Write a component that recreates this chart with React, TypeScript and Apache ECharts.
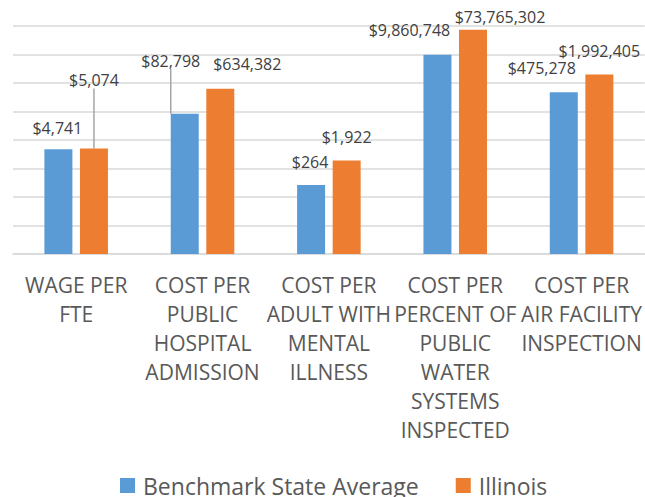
import React, { useEffect, useRef } from "react";
import * as echarts from "echarts";

const categories = [
  "WAGE PER\nFTE",
  "COST PER\nPUBLIC\nHOSPITAL\nADMISSION",
  "COST PER\nADULT WITH\nMENTAL\nILLNESS",
  "COST PER\nPERCENT OF\nPUBLIC\nWATER\nSYSTEMS\nINSPECTED",
  "COST PER\nAIR FACILITY\nINSPECTION",
];
const benchmark = [4741, 82798, 264, 9860748, 475278];
const illinois = [5074, 634382, 1922, 73765302, 1992405];

// label displacements (px) relative to default top placement
const benchOffsets = [[-1, -8], [-14, -40], [-1, -10], [-28, -12], [-22, -11]];
const illOffsets = [[0, -55], [27, -12], [0, -10], [27, 0], [0, -10]];
const benchLeader = [false, true, false, false, false];
const illLeader = [true, false, false, false, false];

const fmt = (v: number) => "$" + v.toLocaleString("en-US");

export default function App() {
  const ref = useRef<HTMLDivElement>(null);
  useEffect(() => {
    const chart = echarts.init(ref.current!, undefined, { renderer: "svg" });
    const labelStyle = {
      show: true,
      position: "top",
      distance: 5,
      color: "#404040",
      fontFamily: "Open Sans",
      fontSize: 16,
      formatter: (p: any) => fmt(p.value),
    };
    const mk = (vals: number[], leaders: boolean[]) =>
      vals.map((v, i) => ({
        value: v,
        labelLine: { show: leaders[i], lineStyle: { color: "#A6A6A6", width: 1.5 } },
      }));
    chart.setOption({
      animation: false,
      grid: { left: 13, right: 0, top: 26, bottom: 243, containLabel: false },
      legend: {
        left: 120,
        top: 474,
        padding: 0,
        itemWidth: 15,
        itemHeight: 15,
        itemGap: 37,
        icon: "rect",
        textStyle: { fontFamily: "Open Sans", fontSize: 23, lineHeight: 22, color: "#595959", padding: [0, 0, 0, 3] },
        data: ["Benchmark State Average", "Illinois"],
      },
      xAxis: {
        type: "category",
        data: categories,
        axisTick: { show: false },
        axisLine: { lineStyle: { color: "#D9D9D9", width: 1.5 } },
        axisLabel: {
          interval: 0,
          margin: 16,
          fontFamily: "Open Sans",
          fontSize: 21,
          lineHeight: 29,
          color: "#595959",
          verticalAlign: "top",
        },
      },
      yAxis: {
        type: "log",
        logBase: 10,
        min: 1,
        max: 100000000,
        interval: 1,
        axisLabel: { show: false },
        axisLine: { show: false },
        axisTick: { show: false },
        splitLine: { lineStyle: { color: "#D9D9D9", width: 1.5 } },
      },
      series: [
        {
          name: "Benchmark State Average",
          type: "bar",
          data: mk(benchmark, benchLeader),
          barWidth: 28,
          barGap: "27%",
          itemStyle: { color: "#5B9BD5" },
          label: labelStyle,
          labelLayout: (p: any) => ({ dx: benchOffsets[p.dataIndex][0], dy: benchOffsets[p.dataIndex][1] }),
        },
        {
          name: "Illinois",
          type: "bar",
          data: mk(illinois, illLeader),
          barWidth: 28,
          barGap: "27%",
          itemStyle: { color: "#ED7D31" },
          label: labelStyle,
          labelLayout: (p: any) => ({ dx: illOffsets[p.dataIndex][0], dy: illOffsets[p.dataIndex][1] }),
        },
      ],
    });
    return () => chart.dispose();
  }, []);
  return (
    <div
      ref={ref}
      style={{ position: "fixed", left: 0, top: 0, width: 645, height: 497, background: "#fff" }}
    />
  );
}
